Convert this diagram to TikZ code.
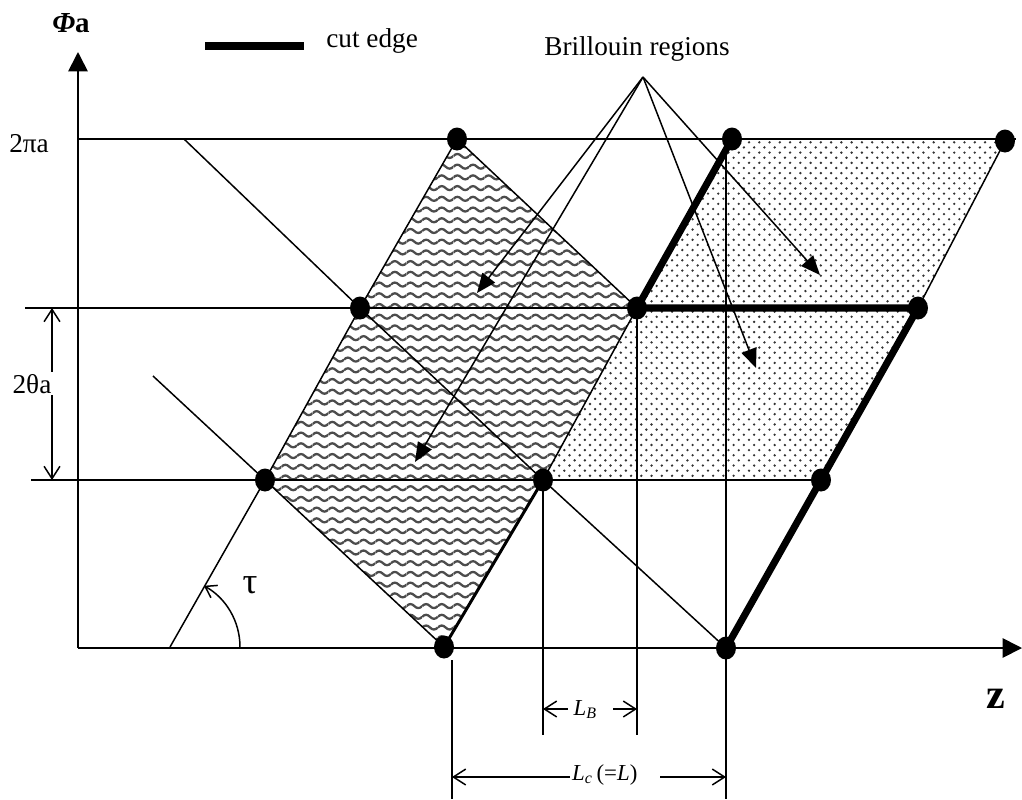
\documentclass[tikz,border=0pt]{standalone}
\usepackage{fontspec}
\setmainfont{Liberation Serif}
\usetikzlibrary{arrows.meta,patterns}

% wavy fill
\pgfdeclarepatternformonly{bzwaves}{\pgfqpoint{0pt}{-3.05pt}}{\pgfqpoint{8.9pt}{3.05pt}}{\pgfqpoint{8.9pt}{6.1pt}}{%
	\pgfsetlinewidth{1.3pt}%
	\pgfpathmoveto{\pgfqpoint{0pt}{0pt}}%
	\pgfpathcurveto{\pgfqpoint{1.5pt}{1.5pt}}{\pgfqpoint{2.95pt}{1.5pt}}{\pgfqpoint{4.45pt}{0pt}}%
	\pgfpathcurveto{\pgfqpoint{5.95pt}{-1.5pt}}{\pgfqpoint{7.4pt}{-1.5pt}}{\pgfqpoint{8.9pt}{0pt}}%
	\pgfusepath{stroke}}

% dotted fill
\pgfdeclarepatternformonly{bzdots}{\pgfqpoint{-0.8pt}{-0.8pt}}{\pgfqpoint{3.8pt}{3.8pt}}{\pgfqpoint{5.84pt}{5.84pt}}{%
	\pgfpathcircle{\pgfqpoint{0pt}{0pt}}{0.75pt}%
	\pgfpathcircle{\pgfqpoint{2.92pt}{2.92pt}}{0.75pt}%
	\pgfusepath{fill}}

\begin{document}
\begin{tikzpicture}[x=0.02cm, y=-0.02cm,
	thinln/.style={line width=0.85pt},
	cutln/.style={line width=4pt},
	axis/.style={line width=1pt, -{Triangle[length=11pt,width=11pt]}},
	dim/.style={line width=0.85pt, {Straight Barb[length=7pt,width=9pt]}-{Straight Barb[length=7pt,width=9pt]}},
	ptr/.style={line width=0.85pt, -{Triangle[length=11pt,width=9pt]}},
	lbl/.style={font=\fontsize{15.5}{18}\selectfont},
	dimlbl/.style={font=\fontsize{13}{15}\selectfont, fill=white, inner xsep=0pt, inner ysep=2pt}]
	
	% fixed frame
	\useasboundingbox (0,0) rectangle (1022,799);
	
	% --- Lattice points ---
	\foreach \n/\px/\py in {r3a/457/139, r3b/732/139, r3c/1005/141,
		r2a/360/308, r2b/637/308, r2c/918/308,
		r1a/265/480, r1b/543/480, r1c/821/480,
		r0a/444/647, r0b/726/648}
		\coordinate (\n) at (\px,\py);
	
	% --- Brillouin regions ---
	\fill[pattern=bzwaves, pattern color=black!70]
	(r3a) -- (r2b) -- (r1b) -- (r0a) -- (r1a) -- (r2a) -- cycle;
	\fill[pattern=bzdots, pattern color=black!80]
	(r3b) -- (r3c) -- (r2c) -- (r1c) -- (r1b) -- (r2b) -- cycle;
	
	% --- Axes ---
	\coordinate (O) at (78,648);
	\coordinate (phitop) at (78,52);
	\coordinate (zend) at (1022,648);
	\draw[axis] (O) -- (phitop);
	\draw[axis] (O) -- (zend);
	\node[font=\fontsize{16.5}{19}\selectfont, anchor=base] (phil) at (71,32) {\textbf{\textit{Φ}a}};
	\node[anchor=base, font=\fontsize{24}{28}\selectfont\bfseries] (zl) at (996,708) {z};
	
	% --- Horizontal levels ---
	\coordinate (h3l) at (78,139);
	\coordinate (h3r) at (1016,139);
	\coordinate (h2l) at (25,308);
	\coordinate (h1l) at (31,480);
	\draw[thinln] (h3l) -- (h3r);
	\draw[thinln] (h2l) -- (r2c);
	\draw[thinln] (h1l) -- (r1c);
	\node[lbl, anchor=base] (lev3) at (29,152) {2πa};
	
	% --- Slanted lines (angle tau) ---
	\coordinate (tau0) at (170,647);
	\draw[thinln] (tau0) -- (r1a) -- (r2a) -- (r3a);
	\draw[thinln] (r1b) -- (r2b);
	\draw[line width=1.7pt] (r0a) -- (r1b);
	\draw[thinln] (r2c) -- (r3c);
	% cut edges
	\draw[cutln] (r3b) -- (r2b) -- (r2c) -- (r1c) -- (r0b);
	
	% --- Other direction ---
	\coordinate (d1) at (184,139);
	\coordinate (d2) at (153,376);
	\draw[thinln] (d1) -- (r2a) -- (r1b) -- (r0b);
	\draw[thinln] (d2) -- (r1a) -- (r0a);
	\draw[thinln] (r3a) -- (r2b);
	
	% --- Vertical guides ---
	\coordinate (gc1) at (726,139);
	\coordinate (gc2) at (726,799);
	\coordinate (gb1) at (637,735);
	\coordinate (gb2) at (543,735);
	\coordinate (gl1) at (452,660);
	\coordinate (gl2) at (452,799);
	\draw[thinln] (gc1) -- (gc2);
	\draw[thinln] (r2b) -- (gb1);
	\draw[thinln] (r1b) -- (gb2);
	\draw[thinln] (gl1) -- (gl2);
	
	% --- Dimensions ---
	\coordinate (th1) at (52,308);
	\coordinate (th2) at (52,480);
	\draw[dim] (th1) -- (th2);
	\node[lbl, anchor=base, fill=white, inner sep=1pt] (thl) at (32,393) {2θa};
	
	\coordinate (lb1) at (543,709);
	\coordinate (lb2) at (637,709);
	\draw[dim] (lb1) -- (lb2);
	\node[dimlbl, anchor=base west] (lbl) at (568,715)
	{\hspace*{3pt}\textit{L}\textsubscript{\textit{B}}\hspace*{9pt}};
	
	\coordinate (lc1) at (452,777);
	\coordinate (lc2) at (726,777);
	\draw[dim] (lc1) -- (lc2);
	\node[dimlbl, anchor=base west] (lcl) at (570,780)
	{\hspace*{1pt}\textit{L}\textsubscript{\textit{c}}\,(=\textit{L})\hspace*{13pt}};
	
	% --- Angle tau ---
	\coordinate (tauS) at (240,647);
	\draw[thinln, -{Straight Barb[length=6pt,width=8pt]}]
	(tauS) arc[start angle=0, end angle=-61, radius=70];
	\node[anchor=base, font=\fontsize{21}{24}\selectfont] (taul) at (250,593) {τ};
	
	% --- Legend ---
	\coordinate (lg1) at (205,46);
	\coordinate (lg2) at (304,46);
	\draw[cutln] (lg1) -- (lg2);
	\node[lbl, anchor=base west, inner sep=0pt] (lgt) at (326,47) {cut edge};
	
	% --- Pointers to the regions ---
	\node[lbl, anchor=base] (brl) at (637,55) {Brillouin regions};
	\coordinate (bapex) at (643,77);
	\coordinate (bt1) at (477,293);
	\coordinate (bt2) at (415,462);
	\coordinate (bt3) at (820,275);
	\coordinate (bt4) at (756,368);
	\foreach \t in {bt1,bt2,bt3,bt4}
	\draw[ptr] (bapex) -- (\t);
	
	% --- Dots ---
	\foreach \n in {r3a,r3b,r3c,r2a,r2b,r2c,r1a,r1b,r1c,r0a,r0b}
	\fill (\n) ellipse[x radius=10, y radius=11.5];
	
\end{tikzpicture}
\end{document}
